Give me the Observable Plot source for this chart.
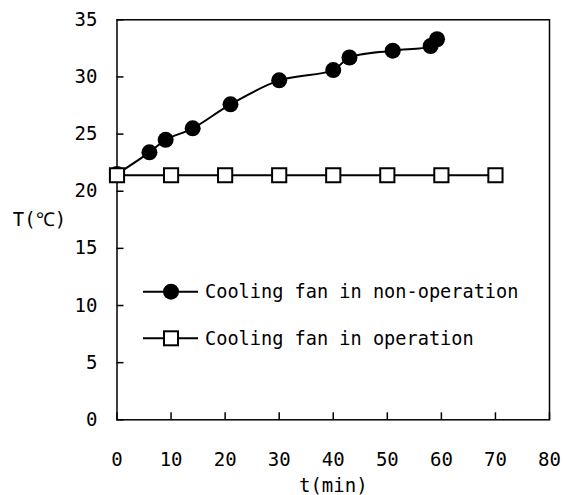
<!DOCTYPE html>
<html>
<head>
<meta charset="utf-8">
<script src="https://cdn.jsdelivr.net/npm/d3@7"></script>
<script src="https://cdn.jsdelivr.net/npm/@observablehq/plot@0.6"></script>
<style>
  body { margin: 0; background: #fff; }
  #chart svg { display: block; }
</style>
</head>
<body>
<div id="chart"></div>
<script>
// Temperature rise with the cooling fan stopped
const timeOff = [0, 6, 9, 14, 21, 30, 40, 43, 51, 58, 59.2];
const tempOff = [21.5, 23.4, 24.5, 25.5, 27.6, 29.7, 30.6, 31.7, 32.3, 32.7, 33.3];

// Temperature with the cooling fan running
const timeOn = [0, 10, 20, 30, 40, 50, 60, 70];
const tempOn = [21.4, 21.4, 21.4, 21.4, 21.4, 21.4, 21.4, 21.4];

const seriesNames = ["Cooling fan in non-operation", "Cooling fan in operation"];
const xTicks = [0, 10, 20, 30, 40, 50, 60, 70, 80];
const yTicks = [0, 5, 10, 15, 20, 25, 30, 35];
const xTitle = "t(min)";
const yTitle = "T(℃)";

const off = timeOff.map((t, i) => ({t, T: tempOff[i]}));
const on = timeOn.map((t, i) => ({t, T: tempOn[i]}));

const font = "DejaVu Sans Mono";

const chart = Plot.plot({
  width: 564,
  height: 495,
  marginLeft: 116.5,
  marginRight: 15,
  marginTop: 19.3,
  marginBottom: 75.7,
  style: {fontFamily: font, fontSize: "19px", color: "#000", background: "#fff"},
  x: {domain: [0, 80]},
  y: {domain: [0, 35]},
  marks: [
    Plot.axisX({ticks: xTicks, tickSize: -7, tickPadding: 40, tickFormat: d => String(d), label: null, strokeWidth: 1.5, fontSize: 19}),
    Plot.axisY({ticks: yTicks, tickSize: -7, tickPadding: 26.5, tickFormat: d => String(d), label: null, strokeWidth: 1.5, fontSize: 19}),
    Plot.frame({stroke: "#000", strokeWidth: 1.5}),
    Plot.line(off, {x: "t", y: "T", curve: "catmull-rom", stroke: "#000", strokeWidth: 2}),
    Plot.dot(off, {x: "t", y: "T", r: 8, fill: "#000", stroke: null}),
    Plot.line(on, {x: "t", y: "T", stroke: "#000", strokeWidth: 2}),
    Plot.dot(on, {x: "t", y: "T", r: 8, symbol: "square", fill: "#fff", stroke: "#000", strokeWidth: 2}),
    Plot.text([xTitle], {frameAnchor: "bottom", dy: 66, lineAnchor: "middle", fontSize: 19}),
    Plot.text([yTitle], {frameAnchor: "left", dx: -77.5, textAnchor: "middle", lineAnchor: "middle", fontSize: 19})
  ]
});

// In-plot legend: a short line with the series marker, then its name
const svg = d3.select(chart);
const legend = svg.append("g")
  .attr("font-family", font)
  .attr("font-size", 18.6)
  .attr("text-anchor", "start");
const entries = [
  {name: seriesNames[0], symbol: "circle", y: 291.7},
  {name: seriesNames[1], symbol: "square", y: 338.3}
];
for (const e of entries) {
  const g = legend.append("g").attr("transform", `translate(0,${e.y})`);
  g.append("line").attr("x1", 143).attr("x2", 198).attr("stroke", "#000").attr("stroke-width", 2);
  if (e.symbol === "circle") {
    g.append("circle").attr("cx", 171).attr("r", 8).attr("fill", "#000");
  } else {
    g.append("rect").attr("x", 171 - 7).attr("y", -7).attr("width", 14).attr("height", 14)
      .attr("fill", "#fff").attr("stroke", "#000").attr("stroke-width", 2);
  }
  g.append("text").attr("x", 205).attr("dy", "0.35em").attr("fill", "#000")
    .attr("text-anchor", "start").text(e.name);
}

document.getElementById("chart").append(chart);
</script>
</body>
</html>
